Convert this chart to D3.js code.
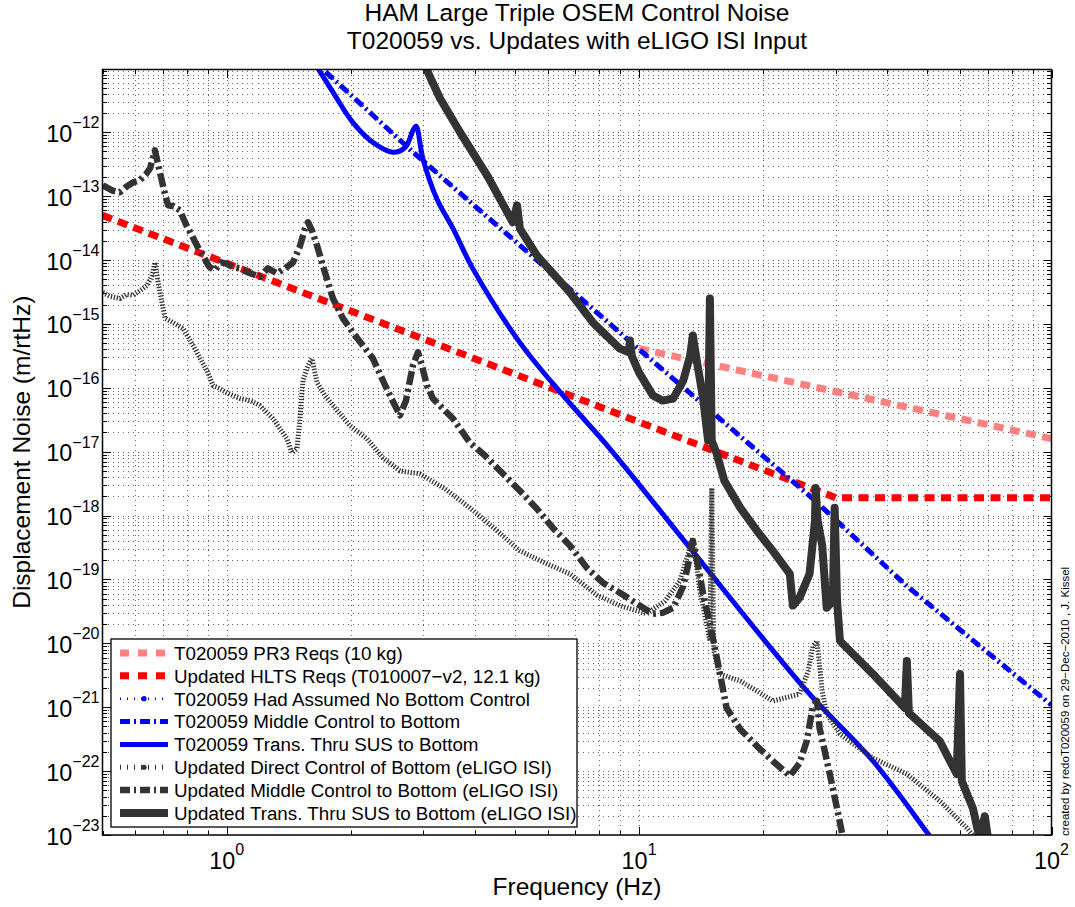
<!DOCTYPE html>
<html>
<head>
<meta charset="utf-8">
<script src="https://cdn.jsdelivr.net/npm/d3@7"></script>
<style>
body { margin: 0; background: #fff; }
svg { font-family: "Liberation Sans", Arial, sans-serif; }
</style>
</head>
<body>
<div id="chart"></div>
<script>
// Data: [frequency (Hz), displacement noise (m/rtHz)]
const pr3Reqs = [[10, 4.1e-16], [100, 1.6e-17]];
const hltsReqs = [[0.5, 5.0e-14], [30, 1.9e-18], [100, 1.9e-18]];
const hadAssumed = [[1.6, 1.43e-11], [1.71, 9.7e-12], [2.83, 4.9e-13], [10, 4.0e-16], [26.4, 1.83e-18], [44.6, 7.9e-20], [100, 1.08e-21]];
const middleOld = [[1.6, 1.43e-11], [1.71, 9.7e-12], [2.83, 4.9e-13], [10, 4.0e-16], [26.4, 1.83e-18], [44.6, 7.9e-20], [100, 1.08e-21]];
const transOld = [[1.56, 1.9e-11], [1.665, 1.0e-11], [1.81, 4.24e-12], [2.02, 1.44e-12], [2.26, 6.97e-13], [2.53, 4.87e-13],
  [2.71, 5.8e-13], [2.83, 1.07e-12], [2.88, 1.24e-12], [2.99, 3.91e-13], [3.23, 9.2e-14], [3.54, 3.1e-14], [3.95, 7.4e-15],
  [5.14, 5.1e-16], [6.54, 7.6e-17], [8.5, 1.11e-17], [13.3, 3.1e-19], [25.5, 1.8e-21], [36.9, 1.44e-22], [50.7, 9.6e-24], [55.1, 4.7e-24]];
const directNew = [[0.501, 3.1e-15], [0.521, 2.7e-15], [0.551, 2.5e-15], [0.573, 2.9e-15], [0.593, 2.8e-15], [0.616, 3.3e-15],
  [0.641, 4.0e-15], [0.659, 5.7e-15], [0.67, 9.2e-15], [0.681, 4.8e-15], [0.689, 3.1e-15], [0.709, 1.22e-15], [0.741, 1.05e-15],
  [0.784, 8.5e-16], [0.829, 4.6e-16], [0.862, 2.87e-16], [0.896, 1.86e-16], [0.927, 1.08e-16], [0.963, 9.7e-17], [1.0, 8.4e-17],
  [1.077, 6.8e-17], [1.139, 6.3e-17], [1.204, 5.3e-17], [1.252, 4.1e-17], [1.295, 3.3e-17], [1.346, 2.3e-17], [1.4, 1.6e-17],
  [1.44, 9.6e-18], [1.48, 1.11e-17], [1.505, 3.1e-17], [1.531, 1.3e-16], [1.575, 2.23e-16], [1.61, 2.87e-16], [1.656, 1.21e-16],
  [1.731, 7.6e-17], [1.81, 5.3e-17], [1.99, 2.56e-17], [2.188, 1.6e-17], [2.393, 8.0e-18], [2.632, 5.0e-18], [2.942, 4.5e-18],
  [3.382, 2.63e-18], [3.889, 1.32e-18], [4.472, 6.2e-19], [5.14, 2.8e-19], [5.909, 1.82e-19], [6.797, 1.22e-19], [7.901, 5.7e-20],
  [8.98, 3.9e-20], [10.44, 2.9e-20], [11.55, 4.6e-20], [12.56, 9.5e-20], [13.5, 4.5e-19], [14.04, 6.6e-20], [14.44, 2.7e-20],
  [14.85, 1.09e-20], [15.01, 2.7e-18], [15.18, 7.6e-21], [15.7, 3.3e-21], [17.6, 2.57e-21], [19.3, 1.8e-21], [21.1, 1.25e-21],
  [24.5, 1.61e-21], [25.7, 3.7e-21], [26.4, 9.1e-21], [27.0, 1.09e-20], [27.8, 1.8e-21], [28.5, 7.8e-22], [30.7, 3.8e-22],
  [36.9, 1.6e-22], [44.6, 9.0e-23], [53.6, 3.4e-23], [62.4, 1.28e-23], [68.9, 6.0e-24]];
const middleNew = [[0.501, 1.48e-13], [0.527, 1.23e-13], [0.551, 1.15e-13], [0.573, 1.43e-13], [0.593, 1.64e-13], [0.616, 1.77e-13],
  [0.637, 2.2e-13], [0.652, 2.73e-13], [0.67, 5.2e-13], [0.689, 2.36e-13], [0.705, 1.23e-13], [0.721, 7.2e-14], [0.745, 6.9e-14],
  [0.77, 6.0e-14], [0.797, 3.6e-14], [0.819, 2.6e-14], [0.847, 1.69e-14], [0.876, 1.18e-14], [0.906, 7.9e-15], [0.937, 6.9e-15],
  [0.969, 9.2e-15], [1.0, 8.8e-15], [1.036, 7.7e-15], [1.077, 7.4e-15], [1.139, 6.2e-15], [1.204, 5.5e-15], [1.259, 7.4e-15],
  [1.324, 6.2e-15], [1.384, 7.4e-15], [1.448, 9.2e-15], [1.505, 1.63e-14], [1.548, 3.1e-14], [1.575, 3.9e-14], [1.61, 2.9e-14],
  [1.656, 1.69e-14], [1.731, 6.4e-15], [1.81, 2.5e-15], [1.914, 1.22e-15], [2.024, 7.3e-16], [2.14, 4.6e-16], [2.263, 2.87e-16],
  [2.393, 1.3e-16], [2.488, 7.6e-17], [2.632, 3.7e-17], [2.721, 6.3e-17], [2.829, 2.23e-16], [2.91, 3.6e-16], [2.975, 2.23e-16],
  [3.06, 1.08e-16], [3.163, 6.8e-17], [3.382, 4.4e-17], [3.537, 3.3e-17], [3.889, 1.38e-17], [4.229, 8.7e-18], [4.677, 4.5e-18],
  [5.14, 2.45e-18], [5.652, 1.28e-18], [6.18, 6.4e-19], [6.797, 3.4e-19], [7.471, 1.52e-19], [8.17, 8.9e-20], [8.98, 6.2e-20],
  [9.88, 4.15e-20], [10.8, 2.9e-20], [11.4, 3.0e-20], [12.1, 3.6e-20], [12.8, 7.9e-20], [13.1, 1.52e-19], [13.5, 4.0e-19],
  [13.9, 1.63e-19], [14.3, 5.9e-20], [14.7, 2.7e-20], [15.1, 1.22e-20], [15.7, 3.4e-21], [16.3, 9.7e-22], [17.6, 4.5e-22],
  [19.3, 2.47e-22], [21.1, 1.44e-22], [23.2, 8.4e-23], [24.5, 1.33e-22], [25.5, 2.95e-22], [26.4, 1.05e-21], [27.0, 1.25e-21],
  [27.4, 4.7e-22], [28.2, 2.06e-22], [29.0, 9.0e-23], [30.2, 2.6e-23], [31.7, 5.6e-24]];
const transNew = [[2.94, 1.67e-11], [3.02, 1.12e-11], [3.29, 3.41e-12], [3.68, 1.0e-12], [4.28, 2.12e-13], [4.94, 3.9e-14],
  [5.06, 7.2e-14], [5.14, 3.1e-14], [5.65, 1.18e-14], [6.8, 3.1e-15], [7.73, 1.05e-15], [8.98, 4.1e-16], [9.45, 3.6e-16],
  [9.5, 5.5e-16], [9.61, 3.1e-16], [10.0, 1.73e-16], [10.8, 7.6e-17], [11.4, 6.3e-17], [12.1, 6.8e-17], [12.8, 1.3e-16],
  [13.3, 3.2e-16], [13.5, 6.6e-16], [13.8, 2.67e-16], [14.3, 6.8e-17], [14.7, 1.49e-17], [14.85, 2.5e-15], [15.0, 1.49e-17],
  [15.4, 9.6e-18], [16.1, 3.5e-18], [17.6, 1.32e-18], [19.3, 5.8e-19], [21.1, 2.8e-19], [23.2, 1.22e-19], [23.6, 3.9e-20],
  [24.5, 5.2e-20], [25.9, 1.22e-19], [26.7, 8.3e-19], [26.8, 2.7e-18], [27.1, 8.3e-19], [27.8, 3.4e-19], [28.5, 3.6e-20],
  [29.5, 4.6e-20], [29.8, 1.32e-18], [30.2, 4.6e-20], [30.7, 1.09e-20], [36.9, 3.3e-21], [44.1, 9.7e-22], [44.6, 5.3e-21],
  [45.1, 8.1e-22], [53.6, 2.95e-22], [58.9, 9.0e-23], [60.0, 3.3e-21], [60.6, 7.0e-23], [64.5, 2.6e-23], [67.0, 8.6e-24],
  [68.9, 1.97e-23], [70.9, 5.6e-24]];

const legendLabels = [
  "T020059 PR3 Reqs (10 kg)",
  "Updated HLTS Reqs (T010007\u2212v2, 12.1 kg)",
  "T020059 Had Assumed No Bottom Control",
  "T020059 Middle Control to Bottom",
  "T020059 Trans. Thru SUS to Bottom",
  "Updated Direct Control of Bottom (eLIGO ISI)",
  "Updated Middle Control to Bottom (eLIGO ISI)",
  "Updated Trans. Thru SUS to Bottom (eLIGO ISI)"
];
const xTickExps = [0, 1, 2];
const yTickExps = d3.range(-23, -11);
const titleLines = ["HAM Large Triple OSEM Control Noise", "T020059 vs. Updates with eLIGO ISI Input"];

// Stijlen per reeks (zelfde volgorde als legenda)
const series = [
  {data: pr3Reqs, color: "#ff8080", width: 7, dash: "10,6.5", legDash: "9,9", dot: false, smooth: false},
  {data: hltsReqs, color: "#ff0000", width: 7, dash: "10,6.5", legDash: "9,9", dot: false, smooth: false},
  {data: hadAssumed, color: "#0000ff", width: 2.5, dash: "1,4", legDash: "1,6", dot: true, smooth: false},
  {data: middleOld, color: "#0000ff", width: 5, dash: "10,4,2,4", legDash: "10,4,2,4", dot: true, smooth: false},
  {data: transOld, color: "#0000ff", width: 5, dash: null, legDash: null, dot: false, smooth: true},
  {data: directNew, color: "#333333", width: 5, dash: "1.3,1.7", legDash: "1,6", dot: true, smooth: false},
  {data: middleNew, color: "#333333", width: 6.5, dash: "14,4,3,4", legDash: "10,4,2,4", dot: true, smooth: false},
  {data: transNew, color: "#333333", width: 8, dash: null, legDash: null, dot: false, smooth: false}
];

const W = 1075, H = 907;
const pLeft = 102.5, pRight = 1051.5, pTop = 69.5, pBottom = 835;

const x = d3.scaleLog().domain([0.5, 100]).range([pLeft, pRight]);
const y = d3.scaleLog().domain([1e-23, 9.6e-12]).range([pBottom, pTop]);
const px = v => Math.round(v) + 0.5;

const svg = d3.select("#chart").append("svg")
  .attr("width", W)
  .attr("height", H);

svg.append("rect").attr("width", W).attr("height", H).attr("fill", "#fff");

svg.append("clipPath").attr("id", "plotClip")
  .append("rect")
  .attr("x", pLeft).attr("y", pTop)
  .attr("width", pRight - pLeft).attr("height", pBottom - pTop);

// Grid- en tickwaarden
const xGridVals = [];
for (let k = -1; k <= 2; k++) {
  for (let d = 1; d <= 9; d++) {
    const v = d * Math.pow(10, k);
    if (v >= 0.5 && v <= 100) xGridVals.push({v: v, major: d === 1});
  }
}
const yGridVals = [];
for (let k = -23; k <= -12; k++) {
  for (let d = 1; d <= 9; d++) {
    const v = d * Math.pow(10, k);
    if (v <= 9.6e-12) yGridVals.push({v: v, major: d === 1});
  }
}

const grid = svg.append("g")
  .attr("stroke", "#666")
  .attr("stroke-width", 1)
  .attr("shape-rendering", "crispEdges")
  .attr("stroke-dasharray", "1,4");

grid.selectAll("line.gx")
  .data(xGridVals.filter(d => x(d.v) > pLeft + 1 && x(d.v) < pRight - 1))
  .join("line")
  .attr("class", "gx")
  .attr("x1", d => px(x(d.v))).attr("x2", d => px(x(d.v)))
  .attr("y1", pTop).attr("y2", pBottom);

grid.selectAll("line.gy")
  .data(yGridVals.filter(d => y(d.v) < pBottom - 1))
  .join("line")
  .attr("class", "gy")
  .attr("y1", d => px(y(d.v))).attr("y2", d => px(y(d.v)))
  .attr("x1", pLeft).attr("x2", pRight);

// Ticks aan de binnenkant, op alle vier de zijden
const ticks = svg.append("g").attr("stroke", "#000").attr("stroke-width", 1).attr("shape-rendering", "crispEdges");
xGridVals.forEach(d => {
  const len = d.major ? 8 : 4.5;
  const xx = px(x(d.v));
  ticks.append("line").attr("x1", xx).attr("x2", xx).attr("y1", pBottom).attr("y2", pBottom - len);
  ticks.append("line").attr("x1", xx).attr("x2", xx).attr("y1", pTop).attr("y2", pTop + len);
});
yGridVals.forEach(d => {
  const len = d.major ? 8 : 4.5;
  const yy = px(y(d.v));
  ticks.append("line").attr("y1", yy).attr("y2", yy).attr("x1", pLeft).attr("x2", pLeft + len);
  ticks.append("line").attr("y1", yy).attr("y2", yy).attr("x1", pRight).attr("x2", pRight - len);
});

// Curves
const line = d3.line()
  .x(d => x(d[0]))
  .y(d => y(d[1]));
const smoothLine = d3.line()
  .x(d => x(d[0]))
  .y(d => y(d[1]))
  .curve(d3.curveCatmullRom.alpha(0.5));

const plot = svg.append("g").attr("clip-path", "url(#plotClip)");
series.forEach(s => {
  plot.append("path")
    .attr("d", (s.smooth ? smoothLine : line)(s.data))
    .attr("fill", "none")
    .attr("stroke", s.color)
    .attr("stroke-width", s.width)
    .attr("stroke-linejoin", "round")
    .attr("stroke-dasharray", s.dash);
});

// Kader
svg.append("rect")
  .attr("x", pLeft).attr("y", pTop)
  .attr("width", pRight - pLeft).attr("height", pBottom - pTop)
  .attr("fill", "none")
  .attr("stroke", "#000")
  .attr("stroke-width", 1.5);

// Tick labels
const yLab = svg.append("g").attr("font-size", 23.4).attr("fill", "#000");
yTickExps.forEach(e => {
  const t = yLab.append("text")
    .attr("x", pLeft - 3)
    .attr("y", y(Math.pow(10, e)) + 9.5)
    .attr("text-anchor", "end");
  t.append("tspan").text("10");
  t.append("tspan").attr("dy", -13.5).attr("font-size", 16).text("\u2212" + Math.abs(e));
});

const xLab = svg.append("g").attr("font-size", 23.4).attr("fill", "#000");
xTickExps.forEach(e => {
  const t = xLab.append("text")
    .attr("x", x(Math.pow(10, e)))
    .attr("y", 869)
    .attr("text-anchor", "middle");
  t.append("tspan").text("10");
  t.append("tspan").attr("dy", -14).attr("font-size", 16).text(e);
});

// Titels
svg.selectAll("text.title")
  .data(titleLines)
  .join("text")
  .attr("class", "title")
  .attr("x", (pLeft + pRight) / 2)
  .attr("y", (d, i) => 21 + i * 28)
  .attr("text-anchor", "middle")
  .attr("font-size", 24.5)
  .text(d => d);

svg.append("text")
  .attr("x", (pLeft + pRight) / 2)
  .attr("y", 895)
  .attr("text-anchor", "middle")
  .attr("font-size", 24.5)
  .text("Frequency (Hz)");

svg.append("text")
  .attr("transform", `translate(30,${(pTop + pBottom) / 2}) rotate(-90)`)
  .attr("text-anchor", "middle")
  .attr("font-size", 24.5)
  .text("Displacement Noise (m/rtHz)");

svg.append("text")
  .attr("transform", "translate(1069,836) rotate(-90)")
  .attr("font-size", 11.5)
  .text("created by redoT020059 on 29\u2212Dec\u22122010 , J. Kissel");

// Legenda
const leg = svg.append("g");
leg.append("rect")
  .attr("x", 111).attr("y", 639)
  .attr("width", 466).attr("height", 188)
  .attr("fill", "#fff")
  .attr("stroke", "#000")
  .attr("stroke-width", 1.3);

legendLabels.forEach((label, i) => {
  const s = series[i];
  const yy = 653 + i * 22.85;
  leg.append("line")
    .attr("x1", 120).attr("x2", 168)
    .attr("y1", yy).attr("y2", yy)
    .attr("stroke", s.color)
    .attr("stroke-width", s.width)
    .attr("stroke-dasharray", s.legDash);
  if (s.dot) {
    leg.append("circle").attr("cx", 144).attr("cy", yy).attr("r", 2.6).attr("fill", s.color);
  }
  leg.append("text")
    .attr("x", 174).attr("y", yy + 6.8)
    .attr("font-size", 18.8)
    .text(label);
});
</script>
</body>
</html>
